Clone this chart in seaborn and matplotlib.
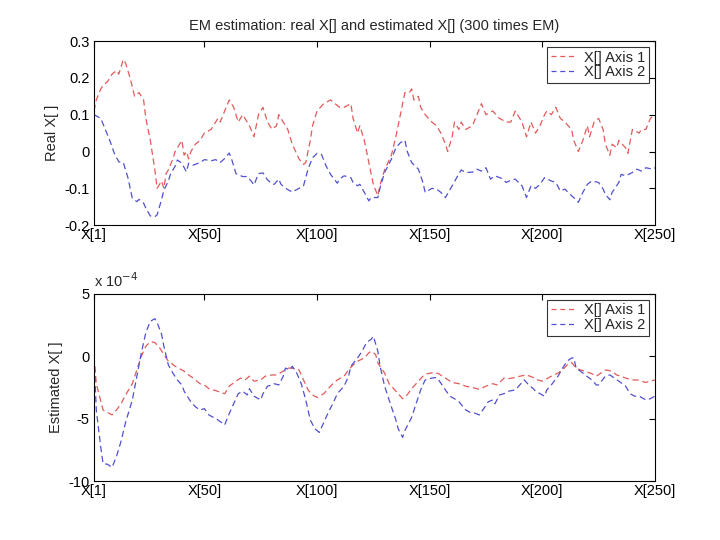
import numpy as np
import pandas as pd
import matplotlib
matplotlib.use("Agg")
import matplotlib.pyplot as plt
import seaborn as sns

# values (sample index, value)
real_ax1_idx = [1, 2, 4, 5, 7, 9, 11, 12, 14, 15, 17, 19, 21, 23, 24, 26, 28, 29, 31, 32, 33, 34, 36, 37, 38,
                40, 41, 42, 43, 44, 46, 48, 50, 53, 55, 56, 57, 59, 61, 63, 65, 67, 68, 70, 72, 74, 76, 78, 80,
                82, 83, 85, 87, 89, 92, 94, 95, 97, 98, 100, 103, 106, 108, 110, 112, 115, 116, 118, 119, 121,
                123, 125, 127, 128, 130, 133, 135, 137, 139, 141, 142, 143, 145, 146, 148, 151, 153, 155, 157,
                158, 160, 161, 163, 164, 166, 169, 171, 173, 175, 178, 181, 184, 186, 188, 191, 193, 195, 197,
                199, 201, 202, 204, 206, 208, 210, 213, 214, 216, 218, 220, 221, 223, 225, 227, 228, 230, 231,
                233, 234, 237, 238, 240, 243, 244, 246, 248, 250]
real_ax1 = [0.11, 0.14, 0.17, 0.18, 0.19, 0.21, 0.22, 0.21, 0.25, 0.24, 0.20, 0.15, 0.16, 0.14, 0.09, 0.03,
            -0.05, -0.10, -0.08, -0.10, -0.06, -0.05, -0.02, 0.00, 0.01, 0.03, -0.01, 0.00, -0.02, 0.00, 0.02,
            0.03, 0.05, 0.06, 0.08, 0.09, 0.08, 0.11, 0.14, 0.12, 0.08, 0.10, 0.09, 0.07, 0.04, 0.10, 0.12,
            0.08, 0.06, 0.07, 0.10, 0.08, 0.06, 0.02, -0.02, -0.035, -0.03, 0.03, 0.07, 0.11, 0.13, 0.14, 0.13,
            0.12, 0.12, 0.13, 0.09, 0.05, 0.07, 0.03, -0.03, -0.09, -0.12, -0.09, -0.05, -0.01, 0.04, 0.10,
            0.16, 0.16, 0.17, 0.14, 0.15, 0.12, 0.10, 0.08, 0.07, 0.05, 0.02, 0.00, 0.04, 0.08, 0.06, 0.08,
            0.06, 0.07, 0.10, 0.13, 0.10, 0.11, 0.09, 0.08, 0.08, 0.11, 0.08, 0.04, 0.08, 0.05, 0.07, 0.10,
            0.11, 0.10, 0.12, 0.09, 0.08, 0.06, 0.03, 0.00, 0.03, 0.07, 0.04, 0.08, 0.09, 0.06, 0.02, -0.01,
            0.02, 0.01, 0.03, 0.01, -0.005, 0.06, 0.05, 0.06, 0.06, 0.09, 0.10]

real_ax2_idx = [1, 4, 6, 8, 10, 12, 14, 16, 18, 20, 21, 23, 24, 26, 28, 29, 31, 32, 34, 35, 37, 38, 40, 42,
                43, 45, 48, 50, 53, 55, 57, 59, 61, 62, 64, 67, 69, 71, 72, 74, 76, 78, 80, 81, 83, 84, 86, 89,
                92, 94, 96, 98, 100, 102, 104, 106, 109, 110, 112, 115, 116, 118, 119, 121, 123, 124, 127, 128,
                130, 133, 135, 137, 139, 140, 142, 145, 147, 148, 151, 153, 155, 157, 160, 162, 164, 166, 169,
                171, 173, 175, 177, 179, 182, 184, 186, 188, 191, 193, 195, 197, 199, 201, 204, 206, 208, 210,
                213, 215, 216, 218, 220, 222, 225, 227, 228, 230, 231, 234, 235, 237, 240, 242, 244, 246, 249,
                250]
real_ax2 = [0.10, 0.09, 0.06, 0.03, -0.005, -0.028, -0.03, -0.07, -0.127, -0.136, -0.13, -0.14, -0.154,
            -0.175, -0.177, -0.172, -0.13, -0.105, -0.08, -0.06, -0.04, -0.023, -0.032, -0.055, -0.032, -0.037,
            -0.03, -0.022, -0.025, -0.022, -0.03, -0.019, -0.004, -0.019, -0.06, -0.068, -0.068, -0.082,
            -0.091, -0.06, -0.058, -0.077, -0.088, -0.089, -0.075, -0.089, -0.10, -0.11, -0.10, -0.093,
            -0.048, -0.017, -0.005, -0.008, -0.039, -0.062, -0.086, -0.075, -0.066, -0.071, -0.084, -0.093,
            -0.089, -0.111, -0.134, -0.125, -0.125, -0.098, -0.057, -0.021, 0.01, 0.024, 0.031, 0.001, -0.03,
            -0.048, -0.084, -0.111, -0.10, -0.102, -0.111, -0.125, -0.093, -0.071, -0.05, -0.057, -0.056,
            -0.048, -0.053, -0.044, -0.075, -0.066, -0.073, -0.084, -0.078, -0.075, -0.093, -0.125, -0.093,
            -0.10, -0.089, -0.071, -0.08, -0.084, -0.107, -0.102, -0.12, -0.131, -0.138, -0.111, -0.089,
            -0.08, -0.084, -0.102, -0.116, -0.131, -0.111, -0.084, -0.062, -0.066, -0.057, -0.048, -0.053,
            -0.044, -0.048, -0.044]

# estimated values, units of 1e-4
est_ax1_idx = [1, 2, 4, 5, 7, 9, 11, 13, 15, 18, 20, 22, 24, 26, 28, 30, 32, 34, 37, 39, 41, 43, 45, 48, 50,
               52, 55, 59, 61, 64, 66, 68, 70, 72, 75, 77, 80, 82, 85, 87, 89, 92, 94, 96, 98, 100, 103, 105,
               107, 109, 112, 114, 116, 118, 121, 123, 124, 126, 127, 130, 132, 134, 136, 138, 140, 142, 145,
               147, 149, 152, 154, 157, 160, 163, 166, 169, 172, 175, 178, 180, 183, 185, 188, 190, 193, 196,
               198, 200, 202, 204, 207, 209, 211, 213, 215, 217, 219, 222, 224, 226, 228, 231, 233, 235, 237,
               240, 242, 244, 246, 249, 250]
est_ax1 = [0, -2.2, -3.6, -4.3, -4.5, -4.7, -4.3, -3.8, -3.1, -2.2, -1.1, 0, 0.8, 1.16, 1.1, 0.7, 0.14, -0.4,
           -0.8, -1.0, -1.2, -1.5, -1.75, -2.2, -2.3, -2.6, -2.75, -3.0, -2.4, -2.0, -1.75, -1.9, -1.6, -2.0,
           -1.9, -1.6, -1.5, -1.5, -1.2, -0.95, -0.95, -1.1, -1.9, -2.7, -3.1, -3.3, -3.0, -2.6, -2.2, -1.9,
           -1.6, -1.1, -0.7, -0.4, -0.14, 0.27, 0.4, 0.14, -0.54, -1.35, -2.2, -2.6, -3.0, -3.4, -3.1, -2.6,
           -2.0, -1.6, -1.4, -1.3, -1.4, -1.75, -2.1, -2.2, -2.4, -2.5, -2.65, -2.4, -2.2, -2.3, -1.75, -1.8,
           -1.7, -1.6, -1.5, -1.7, -1.9, -2.0, -1.8, -1.6, -1.35, -1.1, -0.7, -0.5, -0.95, -1.1, -1.2, -1.4,
           -1.6, -1.35, -1.1, -1.2, -1.5, -1.6, -1.75, -1.9, -1.9, -2.0, -2.1, -1.95, -1.9]

est_ax2_idx = [1, 2, 4, 5, 7, 9, 11, 13, 15, 18, 20, 22, 24, 26, 28, 29, 31, 32, 34, 36, 38, 40, 41, 42, 44,
               46, 48, 50, 52, 54, 56, 59, 61, 63, 65, 67, 69, 70, 72, 75, 76, 78, 80, 81, 83, 85, 86, 88, 89,
               91, 93, 95, 97, 99, 101, 103, 105, 107, 109, 112, 114, 115, 118, 120, 122, 124, 125, 127, 128,
               130, 133, 135, 136, 138, 139, 142, 144, 146, 148, 151, 153, 154, 157, 159, 161, 163, 166, 168,
               170, 172, 174, 176, 178, 179, 181, 183, 185, 188, 190, 192, 194, 196, 197, 199, 201, 202, 204,
               207, 209, 211, 213, 214, 215, 217, 219, 222, 224, 225, 228, 230, 232, 234, 237, 239, 241, 243,
               246, 248, 250]
est_ax2 = [0, -4.3, -7.3, -8.6, -8.65, -8.9, -8.0, -6.8, -5.3, -3.5, -1.6, 0.27, 1.9, 2.8, 3.0, 2.7, 1.75,
           0.8, -0.7, -1.35, -1.9, -2.3, -2.8, -3.1, -3.65, -4.05, -4.3, -4.2, -4.7, -4.9, -5.1, -5.5, -4.6,
           -3.8, -3.0, -2.8, -3.1, -2.6, -3.2, -3.5, -3.0, -2.4, -2.3, -2.2, -2.3, -1.6, -0.95, -1.1, -0.8,
           -1.35, -2.2, -3.5, -5.1, -5.8, -6.1, -5.3, -4.5, -3.8, -3.0, -2.4, -1.6, -0.8, -0.14, 0.4, 1.1,
           1.35, 1.6, 0.4, -0.8, -2.4, -4.05, -5.1, -5.8, -6.5, -5.95, -4.9, -3.8, -2.7, -1.9, -1.75, -1.7,
           -1.9, -2.7, -3.2, -3.4, -3.65, -4.3, -4.5, -4.55, -4.7, -4.2, -3.65, -3.5, -3.8, -3.1, -3.0, -2.8,
           -2.7, -2.3, -1.9, -2.3, -2.6, -2.8, -3.0, -3.2, -2.7, -2.3, -1.6, -0.95, -0.4, -0.14, -0.14, -0.95,
           -1.2, -1.5, -1.9, -2.3, -2.3, -1.6, -1.5, -1.75, -2.0, -2.4, -3.0, -3.2, -3.2, -3.5, -3.4, -3.2]

xtick_pos = [1, 50, 100, 150, 200, 250]
xtick_labels = ['X[1]', 'X[50]', 'X[100]', 'X[150]', 'X[200]', 'X[250]']
series_names = ['X[] Axis 1', 'X[] Axis 2']

sns.set_style("white")
plt.rcParams['font.family'] = ['Liberation Sans', 'DejaVu Sans']

red = '#e35a5a'
blue = '#5050d0'

real_df = pd.concat([
    pd.DataFrame({'idx': real_ax1_idx, 'val': real_ax1, 'series': series_names[0]}),
    pd.DataFrame({'idx': real_ax2_idx, 'val': real_ax2, 'series': series_names[1]}),
])
est_df = pd.concat([
    pd.DataFrame({'idx': est_ax1_idx, 'val': est_ax1, 'series': series_names[0]}),
    pd.DataFrame({'idx': est_ax2_idx, 'val': est_ax2, 'series': series_names[1]}),
])
est_df['val'] = est_df['val'] * 1e-4

fig = plt.figure(figsize=(7.2, 5.4), dpi=100)
ax1 = fig.add_axes([0.1306, 0.583, 0.779, 0.341])
ax2 = fig.add_axes([0.1306, 0.109, 0.779, 0.347])


def style_axis(ax, ylim, yticks):
    ax.set_xlim(1, 250)
    ax.set_ylim(*ylim)
    ax.set_xticks(xtick_pos)
    ax.set_xticklabels(xtick_labels)
    ax.set_yticks(yticks)
    ax.set_xlabel('')
    ax.tick_params(direction='in', length=4, width=0.8, top=True, right=True,
                   labelsize=10.5, colors='black', pad=3)
    ax.tick_params(axis='x', pad=2)
    for s in ax.spines.values():
        s.set_visible(True)
        s.set_color('black')
        s.set_linewidth(0.8)
    leg = ax.legend(loc='upper right', fontsize=10.5, frameon=True, fancybox=False,
                    borderaxespad=0.4, handlelength=1.6, handletextpad=0.7,
                    borderpad=0.25, labelspacing=0.05)
    leg.get_frame().set_edgecolor('black')
    leg.get_frame().set_linewidth(0.8)


for ax, df in [(ax1, real_df), (ax2, est_df)]:
    sns.lineplot(data=df, x='idx', y='val', hue='series', palette=[red, blue],
                 ax=ax, linewidth=0.9, estimator=None, sort=False)
    for line in ax.get_lines():
        line.set_dashes((5, 3))

style_axis(ax1, (-0.2, 0.3), [-0.2, -0.1, 0, 0.1, 0.2, 0.3])
ax1.set_yticklabels(['-0.2', '-0.1', '0', '0.1', '0.2', '0.3'])
ax1.set_ylabel('Real X[ ]', fontsize=10.5)
ax1.set_title('EM estimation: real X[] and estimated X[] (300 times EM)', fontsize=10.5, pad=8)

style_axis(ax2, (-10e-4, 5e-4), [-10e-4, -5e-4, 0, 5e-4])
ax2.set_yticklabels(['-10', '-5', '0', '5'])
ax2.set_ylabel('Estimated X[ ]', fontsize=10.5)
ax2.text(0.0, 1.02, r'x 10$^{-4}$', transform=ax2.transAxes, fontsize=10.5, ha='left', va='bottom')

for leg in [ax1.get_legend(), ax2.get_legend()]:
    for h in leg.get_lines():
        h.set_dashes((4, 3))
        h.set_linewidth(0.9)

fig.savefig('out.png', dpi=100, facecolor='white')
